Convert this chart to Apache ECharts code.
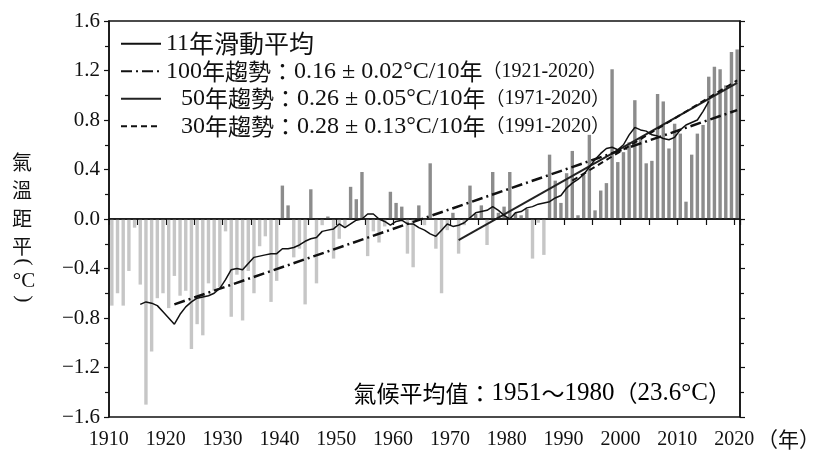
<!DOCTYPE html>
<html><head><meta charset="utf-8">
<script src="https://cdn.jsdelivr.net/npm/echarts@6/dist/echarts.min.js"></script>
<style>html,body{margin:0;padding:0;background:#fff}#c{width:821px;height:459px}</style>
</head><body><div id="c"></div>
<script>
const SERIF = 'Liberation Serif';
const CJK = 'Noto Sans CJK TC';

const firstYear = 1910, lastYear = 2020;
const years = [];
for (let y = firstYear; y <= lastYear; y++) years.push(String(y));

// annual temperature anomaly (°C), 1910-2020
const anomaly = [
  -0.70, -0.60, -0.70, -0.42, -0.07, -0.53, -1.50, -1.07, -0.64, -0.60,
  -0.72, -0.46, -0.62, -0.58, -1.05, -0.85, -0.94, -0.52, -0.58, -0.55,
  -0.10, -0.79, -0.45, -0.82, -0.42, -0.60, -0.22, -0.14, -0.67, -0.50,
   0.27,  0.11, -0.31, -0.24, -0.69,  0.24, -0.52, -0.05,  0.02, -0.32,
  -0.16, -0.06,  0.26,  0.16,  0.38, -0.30, -0.10, -0.19, -0.06,  0.22,
   0.13,  0.10, -0.28, -0.39,  0.11, -0.05,  0.45, -0.24, -0.60, -0.09,
   0.05, -0.28, -0.05,  0.27,  0.04,  0.11, -0.21,  0.38,  0.05,  0.10,
   0.38,  0.05,  0.03,  0.08, -0.32, -0.03, -0.29,  0.52,  0.31,  0.13,
   0.37,  0.55,  0.03,  0.36,  0.68,  0.07,  0.23,  0.29,  1.21,  0.46,
   0.54,  0.62,  0.96,  0.65,  0.45,  0.47,  1.01,  0.95,  0.57,  0.77,
   0.69,  0.14,  0.52,  0.69,  0.76,  1.15,  1.23,  1.21,  1.08,  1.35,
   1.37
];

// 11-year moving average, 1915-2015
const movingAvgStart = 1915;
const movingAvg = [
  -0.69, -0.67, -0.68, -0.70, -0.75, -0.80, -0.85, -0.77, -0.71, -0.67,
  -0.64, -0.63, -0.62, -0.60, -0.56, -0.49, -0.41, -0.40, -0.41, -0.36,
  -0.31, -0.30, -0.29, -0.28, -0.28, -0.24, -0.24, -0.23, -0.21, -0.18,
  -0.16, -0.15, -0.10, -0.09, -0.08, -0.04, -0.07, -0.04, -0.01,  0.00,
   0.04,  0.04,  0.00, -0.02, -0.05, -0.02, -0.01, -0.04, -0.04, -0.07,
  -0.09, -0.12, -0.14, -0.09, -0.04, -0.06, -0.05, -0.03,  0.01,  0.05,
   0.06,  0.07,  0.10,  0.07,  0.03,  0.00,  0.05,  0.06,  0.09,  0.10,
   0.12,  0.13,  0.14,  0.17,  0.19,  0.25,  0.29,  0.32,  0.36,  0.42,
   0.48,  0.53,  0.57,  0.58,  0.56,  0.60,  0.68,  0.74,  0.72,  0.71,
   0.68,  0.67,  0.65,  0.64,  0.66,  0.72,  0.76,  0.78,  0.80,  0.87,
   0.95
];

// linear trend end points [year, value]
const trend100 = [['1921', -0.69], ['2020', 0.88]];
const trend50  = [['1971', -0.17], ['2020', 1.10]];
const trend30  = [['1991', 0.31], ['2020', 1.12]];

const yMin = -1.6, yMax = 1.6, yStep = 0.4;

const names = ['11年滑動平均', '100年趨勢', '50年趨勢', '30年趨勢'];
const legendText = {
  '11年滑動平均': '{n|11}{c1|年滑動平均}',
  '100年趨勢': '{n|100}{c|年趨勢：}{n|0.16 ± 0.02°C/10}{c|年}{p|（}{y|1921-2020}{p|）}',
  '50年趨勢': '{sp|}{n|50}{c|年趨勢：}{n|0.26 ± 0.05°C/10}{c|年}{p|（}{y|1971-2020}{p|）}',
  '30年趨勢': '{sp|}{n|30}{c|年趨勢：}{n|0.28 ± 0.13°C/10}{c|年}{p|（}{y|1991-2020}{p|）}'
};

const movingAvgData = movingAvg.map((v, i) => [String(movingAvgStart + i), v]);
const INK = '#111';
const LH = 27.5;

const chart = echarts.init(document.getElementById('c'));
const yAxisBase = {
  type: 'value', min: yMin, max: yMax, interval: yStep,
  axisLine: { show: true, onZero: false, lineStyle: { color: INK, width: 1.5 } },
  axisTick: { show: true, inside: false, length: 5, lineStyle: { color: INK, width: 1.2 } },
  minorTick: { show: true, splitNumber: 2, length: 4, lineStyle: { color: INK, width: 1.2 } },
  splitLine: { show: false }, minorSplitLine: { show: false }
};
chart.setOption({
  animation: false,
  backgroundColor: '#fff',
  grid: { left: 109, top: 21, width: 631, height: 396, show: true, borderColor: INK, borderWidth: 1.5, backgroundColor: 'transparent' },
  xAxis: {
    type: 'category', data: years, boundaryGap: true,
    axisLine: { show: true, lineStyle: { color: INK, width: 1.5 } },
    axisTick: { show: true, inside: false, length: 6, interval: (i) => i % 5 === 0, lineStyle: { color: INK, width: 1.2 } },
    axisLabel: { interval: (i) => i % 10 === 0, fontFamily: SERIF, fontSize: 20, color: INK, margin: 13, padding: [0, 6, 0, 0] },
    splitLine: { show: false }
  },
  yAxis: [
    Object.assign({}, yAxisBase, {
      position: 'left',
      axisLabel: {
        fontFamily: SERIF, fontSize: 21, color: INK, margin: 9,
        formatter: (v) => (v < -1e-9 ? '\u2212' : '') + Math.abs(v).toFixed(1)
      }
    }),
    Object.assign({}, yAxisBase, { position: 'right', axisLabel: { show: false } })
  ],
  legend: {
    orient: 'vertical', left: 120, top: 30, padding: 0, itemGap: 0,
    itemWidth: 40, itemHeight: 14, selectedMode: false,
    itemStyle: { opacity: 0, borderWidth: 0 },
    data: names,
    formatter: (name) => legendText[name],
    textStyle: {
      color: INK, lineHeight: LH,
      rich: {
        c: { fontFamily: CJK, fontSize: 23, lineHeight: LH, color: INK },
        c1: { fontFamily: CJK, fontSize: 25, lineHeight: LH, color: INK },
        n: { fontFamily: SERIF, fontSize: 24, lineHeight: LH, color: INK },
        y: { fontFamily: SERIF, fontSize: 20, lineHeight: LH, color: INK },
        p: { fontFamily: CJK, fontSize: 19, lineHeight: LH, color: INK },
        sp: { width: 15, lineHeight: LH }
      }
    }
  },
  series: [
    {
      type: 'bar', data: anomaly, barWidth: 3.4, z: 2, silent: true,
      itemStyle: { color: (p) => (p.value < 0 ? '#c6c6c6' : '#8c8c8c') },
      markLine: {
        silent: true, symbol: 'none', label: { show: false },
        lineStyle: { color: INK, width: 1.5, type: 'solid' },
        data: [{ yAxis: 0 }]
      }
    },
    {
      name: names[0], type: 'line', data: movingAvgData, symbol: 'none', z: 5, silent: true,
      lineStyle: { color: INK, width: 1.5, type: 'solid' }, itemStyle: { color: INK }
    },
    {
      name: names[1], type: 'line', data: trend100, symbol: 'none', z: 6, silent: true,
      lineStyle: { color: INK, width: 2.5, type: [11, 4, 2, 4] }, itemStyle: { color: INK }
    },
    {
      name: names[2], type: 'line', data: trend50, symbol: 'none', z: 4, silent: true,
      lineStyle: { color: '#222', width: 2, type: 'solid' }, itemStyle: { color: '#222' }
    },
    {
      name: names[3], type: 'line', data: trend30, symbol: 'none', z: 4, silent: true,
      lineStyle: { color: INK, width: 2, type: [6, 4] }, itemStyle: { color: INK }
    }
  ],
  graphic: [
    {
      type: 'text', left: 12, top: 148, silent: true,
      style: {
        text: '氣\n溫\n距\n平',
        font: '20px "Noto Sans CJK TC"', lineHeight: 28, fill: INK, align: 'center'
      }
    },
    {
      type: 'text', x: 24, y: 262, rotation: -Math.PI / 2, silent: true,
      style: { text: '(', font: '22px "Liberation Serif"', fill: INK, align: 'center', verticalAlign: 'middle' }
    },
    {
      type: 'text', x: 24, y: 281, silent: true,
      style: { text: '°C', font: '21px "Liberation Serif"', fill: INK, align: 'center', verticalAlign: 'middle' }
    },
    {
      type: 'text', x: 24, y: 299, rotation: -Math.PI / 2, silent: true,
      style: { text: ')', font: '22px "Liberation Serif"', fill: INK, align: 'center', verticalAlign: 'middle' }
    },
    {
      type: 'text', right: 90, top: 381, silent: true,
      style: {
        text: '{c|氣候平均值：}{n|1951}{c|～}{n|1980}{c|（}{n|23.6°C}{c|）}',
        rich: {
          c: { fontFamily: CJK, fontSize: 23, lineHeight: 27, color: INK },
          n: { fontFamily: SERIF, fontSize: 25, lineHeight: 27, color: INK }
        }
      }
    },
    {
      type: 'text', left: 757, top: 429, silent: true,
      style: { text: '（年）', font: '21px "Noto Sans CJK TC"', fill: INK }
    }
  ]
});
</script>
</body></html>
